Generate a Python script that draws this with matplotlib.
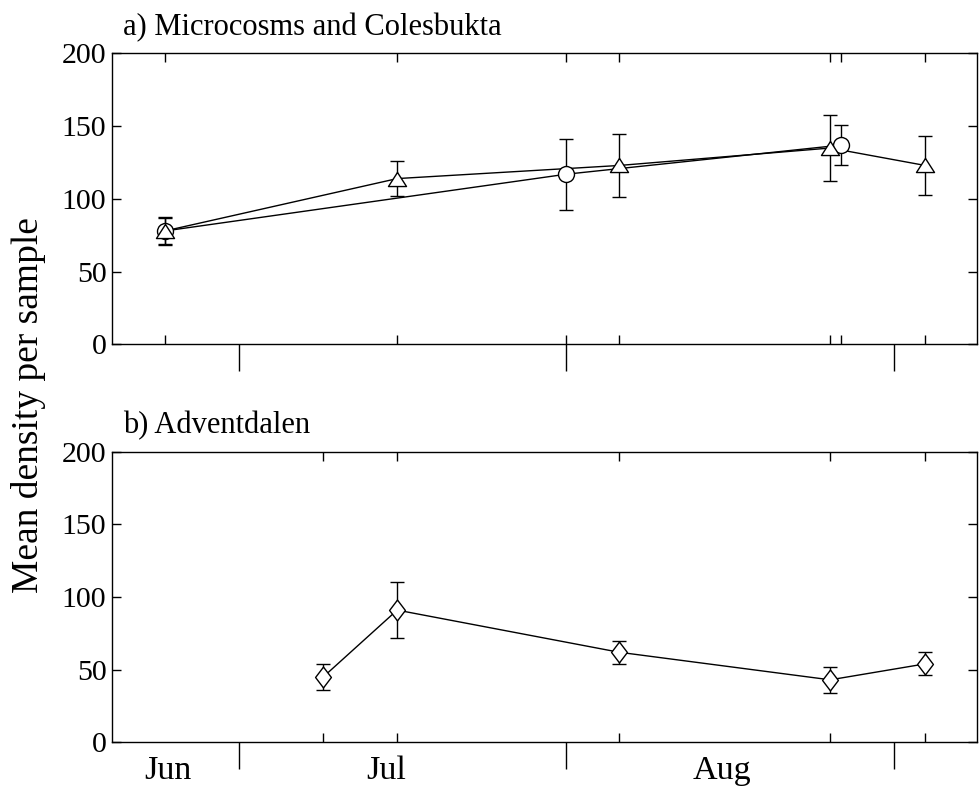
import matplotlib
matplotlib.use("Agg")
import matplotlib.pyplot as plt
from matplotlib.transforms import blended_transform_factory

plt.rcParams['font.family'] = ['Liberation Serif', 'DejaVu Serif']

# ---- data (day number counted from 1 June = day 0) ----
circle_days = [23, 61, 87]
circle_mean = [78, 117, 137]
circle_err = [9, 24.5, 14]

tri_days = [23, 45, 66, 86, 95]
tri_mean = [78, 114, 123, 135, 123]
tri_err = [9.5, 12, 21.5, 22.5, 20.5]

dia_days = [38, 45, 66, 86, 95]
dia_mean = [45, 91, 62, 43, 54]
dia_err = [9, 19, 8, 9, 8]

month_starts = [30, 61, 92]
month_names = ['Jun', 'Jul', 'Aug']
month_label_days = [23.3, 44, 75.7]
yticks = [0, 50, 100, 150, 200]
panel_titles = ['a) Microcosms and Colesbukta', 'b) Adventdalen']

# ---- markers ----
tri_marker = [(0, 0.78), (-1, -0.78), (1, -0.78), (0, 0.78)]
dia_marker = [(0, 1), (0.76, 0), (0, -1), (-0.76, 0), (0, 1)]

fig = plt.figure(figsize=(9.8, 7.87), dpi=100)
ax1 = fig.add_axes([0.1143, 0.5623, 0.8827, 0.3698])
ax2 = fig.add_axes([0.1143, 0.0568, 0.8827, 0.3692])

lw = 1.0
cap = 4.7

def series(ax, x, y, e, marker, ms):
    ax.plot(x, y, color='black', lw=lw, zorder=2)
    ax.errorbar(x, y, yerr=e, fmt='none', ecolor='black', elinewidth=lw,
                capsize=cap, capthick=lw, zorder=3)
    ax.plot(x, y, linestyle='none', marker=marker, ms=ms, mfc='white',
            mec='black', mew=lw, zorder=4)

series(ax1, circle_days, circle_mean, circle_err, 'o', 11.5)
series(ax1, tri_days, tri_mean, tri_err, tri_marker, 13)
series(ax2, dia_days, dia_mean, dia_err, dia_marker, 15)

for ax, title, pts in [(ax1, panel_titles[0], sorted(set(circle_days + tri_days))),
                       (ax2, panel_titles[1], sorted(set(dia_days)))]:
    ax.set_xlim(18, 99.9)
    ax.set_ylim(0, 200)
    ax.set_yticks(yticks)
    ax.set_xticks(month_starts)
    ax.set_xticks(pts, minor=True)
    ax.xaxis.remove_overlapping_locs = False
    ax.set_xticklabels([])
    ax.tick_params(axis='x', which='major', direction='out', length=19.5,
                   width=lw, bottom=True, top=False, labelbottom=False)
    ax.tick_params(axis='x', which='minor', direction='in', length=6.3,
                   width=lw, bottom=True, top=True, labelbottom=False)
    ax.tick_params(axis='y', which='major', direction='in', length=6.3,
                   width=lw, left=True, right=True, labelsize=21.5, pad=4)
    for s in ax.spines.values():
        s.set_linewidth(lw)
    ax.text(0.0127, 1.064, title, transform=ax.transAxes, fontsize=22,
            ha='left', va='baseline')

trans = blended_transform_factory(ax2.transData, ax2.transAxes)
for d, name in zip(month_label_days, month_names):
    ax2.text(d, -0.1246, name, transform=trans, fontsize=24.5,
             ha='center', va='baseline')

fig.text(0.029, 0.4854, 'Mean density per sample', rotation=90,
         fontsize=27, ha='center', va='center')

fig.savefig('out.png', dpi=100)
